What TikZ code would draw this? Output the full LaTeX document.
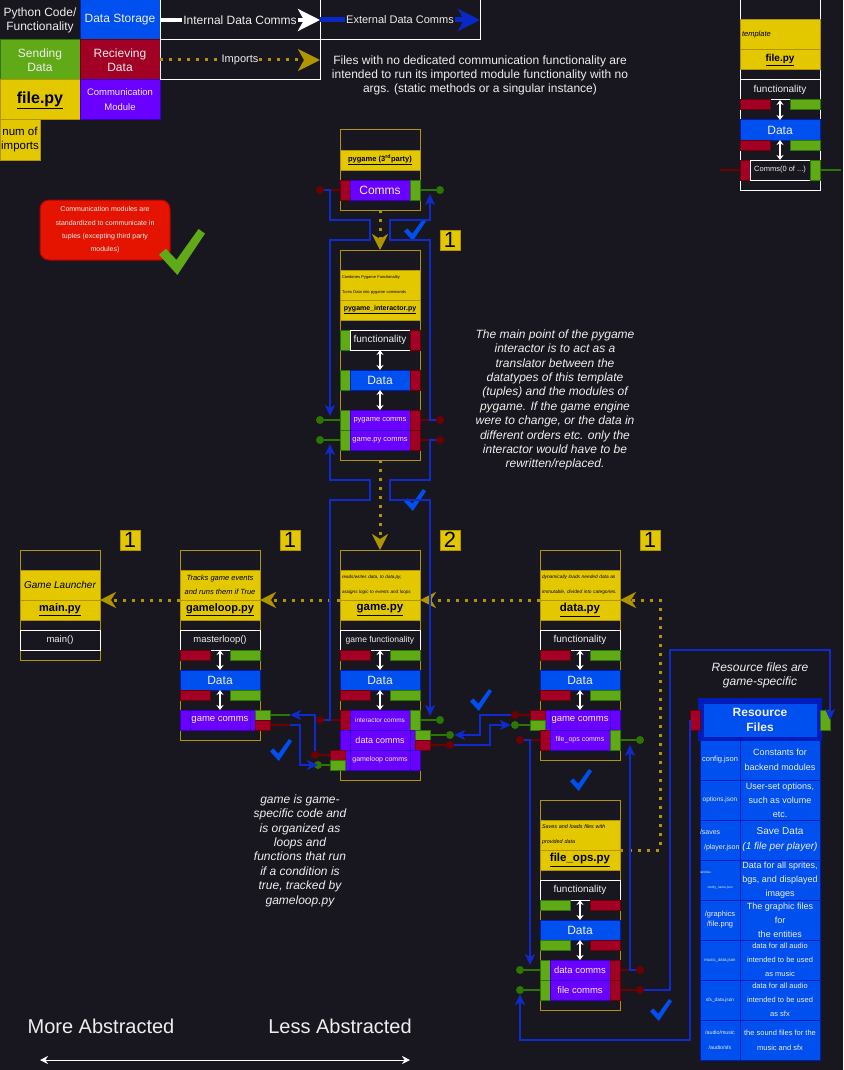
\documentclass[tikz,border=0pt]{standalone}
\usepackage{fontspec}
\setmainfont{Liberation Sans}
\usetikzlibrary{arrows.meta,calc}

\definecolor{bg}{RGB}{24,23,31}
\definecolor{txt}{RGB}{238,238,238}
\definecolor{yel}{HTML}{E3C800}
\definecolor{yelB}{HTML}{B09500}
\definecolor{dblue}{HTML}{0050EF}
\definecolor{dblueB}{HTML}{001DBC}
\definecolor{grn}{HTML}{60A917}
\definecolor{grnB}{HTML}{2D7600}
\definecolor{rd}{HTML}{A20025}
\definecolor{rdB}{HTML}{6F0000}
\definecolor{purp}{HTML}{6A00FF}
\definecolor{purpB}{HTML}{3700CC}
\definecolor{cblue}{RGB}{16,42,204}
\definecolor{xblue}{RGB}{10,40,200}
\definecolor{alarm}{HTML}{E51400}
\definecolor{alarmB}{HTML}{B20000}
\definecolor{chkblue}{RGB}{0,80,239}
\definecolor{chkgreen}{RGB}{96,169,23}

\newcommand\fsz[2]{\fontsize{#1}{#2}\selectfont}
% box from (x1,y1) to (x2,y2), y measured downwards
\newcommand\bx[7]{\node[inner sep=0pt,outer sep=0pt,align=center,anchor=north west,
  minimum width={#4-#2},minimum height={#5-#3},#6] (#1) at (#2,#3) {#7};}

\tikzset{
  ycell/.style={fill=yel,draw=yelB,line width=1pt,text=black},
  modbox/.style={draw=yelB,line width=1pt},
  fnbox/.style={fill=bg,draw=white,line width=1pt,text=txt},
  datab/.style={fill=dblue,draw=dblueB,line width=1pt,text=txt},
  commb/.style={fill=purp,draw=purpB,line width=1pt,text=txt},
  rstub/.style={fill=rd,draw=rdB,line width=1pt},
  gstub/.style={fill=grn,draw=grnB,line width=1pt},
  rline/.style={draw=rdB,line width=2.5pt},
  gline/.style={draw=grnB,line width=2.5pt},
  rdot/.style={circle,fill=rdB,inner sep=0pt,minimum size=8pt},
  gdot/.style={circle,fill=grnB,inner sep=0pt,minimum size=8pt},
  conn/.style={draw=cblue,line width=2pt,-{Stealth[length=11pt,width=10pt,inset=3pt]}},
  imp/.style={draw=yelB,line width=3pt,dash pattern=on 3pt off 6pt,
    -{Stealth[length=16pt,width=16pt,inset=5pt]}},
  dbl/.style={draw=white,line width=1.2pt,
    {Stealth[length=5pt,width=7pt]}-{Stealth[length=5pt,width=7pt]}},
  badge/.style={fill=yel,draw=yelB,line width=1pt,minimum size=20pt,inner sep=0pt,
    text=black,font=\fsz{22}{22}},
  desc/.style={ycell,align=left,text width=76pt,font=\itshape},
  note/.style={text=txt,align=center,font=\fsz{12}{14.4}\itshape},
  chk/.pic={\fill (0,0.56) -- (0.15,0.43) -- (0.38,0.67) -- (0.86,0) -- (1,0.1) -- (0.4,1) -- cycle;}
}

\begin{document}
\begin{tikzpicture}[x=1pt,y=-1pt]
\fill[bg] (0,0) rectangle (843,1070);
\useasboundingbox (0,0) rectangle (843,1070);

% ---------- legend ----------
\bx{lgPy}{0}{0}{80}{40}{fill=bg,text=txt,font=\fsz{12}{14}}{Python Code/\\Functionality}
\bx{lgDs}{80}{0}{160}{40}{datab,font=\fsz{12}{14}}{Data Storage}
\bx{lgSd}{0}{40}{80}{80}{gstub,text=txt,font=\fsz{12}{14}}{Sending\\Data}
\bx{lgRv}{80}{40}{160}{80}{rstub,text=txt,font=\fsz{12}{14}}{Recieving\\Data}
\bx{lgFp}{0}{80}{80}{120}{ycell,font=\fsz{16}{18}\bfseries}{\underline{file.py}}
\bx{lgCm}{80}{80}{160}{120}{commb,font=\fsz{9.5}{15}}{Communication\\Module}
\bx{lgNi}{0}{120}{40}{160}{ycell,font=\fsz{11.5}{14}}{num of\\imports}

\bx{lgIb}{160}{0}{320}{40}{draw=white,line width=1pt}{}
\bx{lgEb}{320}{0}{480}{40}{draw=white,line width=1pt}{}
\bx{lgMb}{160}{40}{320}{80}{draw=white,line width=1pt}{}
\draw[white,line width=4pt,-{Stealth[length=22pt,width=22pt,inset=6pt]}] (lgIb.west) -- (lgIb.east);
\node[fill=bg,text=txt,inner sep=1pt,font=\fsz{12}{14}] (lgIt) at (lgIb.center) {Internal Data Comms};
\draw[xblue,line width=5pt,-{Stealth[length=22pt,width=22pt,inset=6pt]}] (lgEb.west) -- (lgEb.east);
\node[fill=bg,text=txt,inner sep=1pt,font=\fsz{11}{13}] (lgEt) at (lgEb.center) {External Data Comms};
\draw[imp,-{Stealth[length=22pt,width=22pt,inset=6pt]}] (lgMb.west) -- (lgMb.east);
\node[fill=bg,text=txt,inner sep=1pt,font=\fsz{11}{13}] (lgMt) at (lgMb.center) {Imports};

\node[text=txt,align=center,font=\fsz{12}{14}] (lgNote) at (480,75)
  {Files with no dedicated communication functionality are\\intended to run its imported module functionality with no\\args. (static methods or a singular instance)};

% ---------- template ----------
\bx{tpOut}{740}{0}{820}{190}{draw=white,line width=1pt}{}
\bx{tpDesc}{740}{20}{820}{50}{desc,font=\fsz{7.5}{9}\itshape}{template}
\bx{tpName}{740}{50}{820}{70}{ycell,font=\fsz{10}{12}\bfseries}{\underline{file.py}}
\bx{tpFn}{740}{80}{820}{100}{fnbox,font=\fsz{10}{12}}{functionality}
\bx{tpR1}{740}{100}{770}{110}{rstub}{}
\bx{tpG1}{790}{100}{820}{110}{gstub}{}
\bx{tpData}{740}{120}{820}{140}{datab,font=\fsz{12}{14}}{Data}
\bx{tpR2}{740}{140}{770}{150}{rstub}{}
\bx{tpG2}{790}{140}{820}{150}{gstub}{}
\bx{tpCR}{740}{160}{750}{180}{rstub}{}
\bx{tpCm}{750}{160}{810}{180}{fnbox,font=\fsz{7.5}{9}}{Comms(0 of ...)}
\bx{tpCG}{810}{160}{820}{180}{gstub}{}
\coordinate (tpRe) at (720,170);
\coordinate (tpGe) at (841,170);
\draw[rline] (tpCR.west) -- (tpRe);
\draw[gline] (tpCG.east) -- (tpGe);
\draw[dbl] (tpFn.south) -- (tpData.north);
\draw[dbl] (tpData.south) -- (tpCm.north);

% ---------- pygame ----------
\bx{pgOut}{340}{130}{420}{210}{modbox}{}
\bx{pgName}{340}{150}{420}{170}{ycell,font=\fsz{7.5}{9}\bfseries}{\underline{pygame (3\textsuperscript{rd}party)}}
\bx{pgR}{340}{180}{350}{200}{rstub}{}
\bx{pgC}{350}{180}{410}{200}{commb,font=\fsz{12}{14}}{Comms}
\bx{pgG}{410}{180}{420}{200}{gstub}{}
\node[rdot] (pgRd) at (320,190) {};
\node[gdot] (pgGd) at (440,190) {};
\draw[rline] (pgR.west) -- (pgRd);
\draw[gline] (pgG.east) -- (pgGd);

% ---------- pygame_interactor ----------
\bx{piOut}{340}{250}{420}{460}{modbox}{}
\bx{piDesc}{340}{270}{420}{300}{desc,font=\fsz{4}{15}}{Combines Pygame Functionality\\Turns Data into pygame commands}
\bx{piName}{340}{300}{420}{320}{ycell,font=\fsz{7}{9}\bfseries}{\underline{pygame\_interactor.py}}
\bx{piFnG}{340}{330}{350}{350}{gstub}{}
\bx{piFn}{350}{330}{410}{350}{fnbox,font=\fsz{10}{12}}{functionality}
\bx{piFnR}{410}{330}{420}{350}{rstub}{}
\bx{piDaG}{340}{370}{350}{390}{gstub}{}
\bx{piData}{350}{370}{410}{390}{datab,font=\fsz{12}{14}}{Data}
\bx{piDaR}{410}{370}{420}{390}{rstub}{}
\bx{piC1G}{340}{410}{350}{430}{gstub}{}
\bx{piC1}{350}{410}{410}{430}{commb,font=\fsz{7.5}{9}}{pygame comms}
\bx{piC1R}{410}{410}{420}{430}{rstub}{}
\bx{piC2G}{340}{430}{350}{450}{gstub}{}
\bx{piC2}{350}{430}{410}{450}{commb,font=\fsz{7.5}{9}}{game.py comms}
\bx{piC2R}{410}{430}{420}{450}{rstub}{}
\node[gdot] (piGd1) at (320,420) {};
\node[gdot] (piGd2) at (320,440) {};
\node[rdot] (piRd1) at (440,420) {};
\node[rdot] (piRd2) at (440,440) {};
\draw[gline] (piC1G.west) -- (piGd1);
\draw[gline] (piC2G.west) -- (piGd2);
\draw[rline] (piC1R.east) -- (piRd1);
\draw[rline] (piC2R.east) -- (piRd2);
\draw[dbl] (piFn.south) -- (piData.north);
\draw[dbl] (piData.south) -- (piC1.north);

% ---------- main.py ----------
\bx{mnOut}{20}{550}{100}{660}{modbox}{}
\bx{mnDesc}{20}{570}{100}{600}{ycell,font=\fsz{10}{12}\itshape}{Game Launcher}
\bx{mnName}{20}{600}{100}{620}{ycell,font=\fsz{11}{13}\bfseries}{\underline{main.py}}
\bx{mnFn}{20}{630}{100}{650}{fnbox,font=\fsz{9.5}{11}}{main()}

% ---------- gameloop.py ----------
\bx{glOut}{180}{550}{260}{740}{modbox}{}
\bx{glDesc}{180}{570}{260}{600}{ycell,font=\fsz{7.5}{14.5}\itshape}{Tracks game events\\and runs them if True}
\bx{glName}{180}{600}{260}{620}{ycell,font=\fsz{11}{13}\bfseries}{\underline{gameloop.py}}
\bx{glFn}{180}{630}{260}{650}{fnbox,font=\fsz{9.5}{11}}{masterloop()}
\bx{glR1}{180}{650}{210}{660}{rstub}{}
\bx{glG1}{230}{650}{260}{660}{gstub}{}
\bx{glData}{180}{670}{260}{690}{datab,font=\fsz{12}{14}}{Data}
\bx{glR2}{180}{690}{210}{700}{rstub}{}
\bx{glG2}{230}{690}{260}{700}{gstub}{}
\bx{glCo}{180}{710}{255}{730}{commb}{}
\bx{glC}{190}{710}{250}{730}{commb,font=\fsz{9.5}{11}}{game comms}
\bx{glG}{255}{710}{270}{720}{gstub}{}
\bx{glR}{255}{720}{270}{730}{rstub}{}
\coordinate (glGe) at (290,715);
\coordinate (glRe) at (290,725);
\draw[gline] (glG.east) -- (glGe);
\draw[rline] (glR.east) -- (glRe);
\draw[dbl] (glFn.south) -- (glData.north);
\draw[dbl] (glData.south) -- (glC.north);

% ---------- game.py ----------
\bx{gmOut}{340}{550}{420}{780}{modbox}{}
\bx{gmDesc}{340}{570}{420}{600}{desc,font=\fsz{4.6}{15}\itshape}{reads/writes data, to data.py,\\assigns logic to events and loops}
\bx{gmName}{340}{600}{420}{620}{ycell,font=\fsz{11.5}{13}\bfseries}{\underline{game.py}}
\bx{gmFn}{340}{630}{420}{650}{fnbox,font=\fsz{8.5}{10}}{game functionality}
\bx{gmR1}{340}{650}{370}{660}{rstub}{}
\bx{gmG1}{390}{650}{420}{660}{gstub}{}
\bx{gmData}{340}{670}{420}{690}{datab,font=\fsz{12}{14}}{Data}
\bx{gmR2}{340}{690}{370}{700}{rstub}{}
\bx{gmG2}{390}{690}{420}{700}{gstub}{}
\bx{gmIR}{340}{710}{350}{730}{rstub}{}
\bx{gmIC}{350}{710}{410}{730}{commb,font=\fsz{6.5}{8}}{interactor comms}
\bx{gmIG}{410}{710}{420}{730}{gstub}{}
\bx{gmDo}{340}{730}{420}{750}{commb}{}
\bx{gmDC}{350}{730}{410}{750}{commb,font=\fsz{9}{11}}{data comms}
\bx{gmDG}{415}{730}{430}{740}{gstub}{}
\bx{gmDR}{415}{740}{430}{750}{rstub}{}
\bx{gmLo}{345}{750}{420}{770}{commb}{}
\bx{gmLC}{350}{750}{410}{770}{commb,font=\fsz{7}{8}}{gameloop comms}
\bx{gmLR}{330}{750}{345}{760}{rstub}{}
\bx{gmLG}{330}{760}{345}{770}{gstub}{}
\node[rdot] (gmRdI) at (320,720) {};
\node[gdot] (gmGdI) at (440,720) {};
\node[gdot] (gmGdD) at (450,735) {};
\node[rdot] (gmRdD) at (450,745) {};
\node[rdot] (gmRdL) at (315,755) {};
\node[gdot] (gmGdL) at (318,765) {};
\draw[rline] (gmIR.west) -- (gmRdI);
\draw[gline] (gmIG.east) -- (gmGdI);
\draw[gline] (gmDG.east) -- (gmGdD);
\draw[rline] (gmDR.east) -- (gmRdD);
\draw[rline] (gmLR.west) -- (gmRdL);
\draw[gline] (gmLG.west) -- (gmGdL);
\draw[dbl] (gmFn.south) -- (gmData.north);
\draw[dbl] (gmData.south) -- (gmIC.north);

% ---------- data.py ----------
\bx{dtOut}{540}{550}{620}{760}{modbox}{}
\bx{dtDesc}{540}{570}{620}{600}{desc,font=\fsz{4.8}{15}\itshape}{dynamically loads needed data as\\immutable, divided into categories.}
\bx{dtName}{540}{600}{620}{620}{ycell,font=\fsz{11.5}{13}\bfseries}{\underline{data.py}}
\bx{dtFn}{540}{630}{620}{650}{fnbox,font=\fsz{10}{12}}{functionality}
\bx{dtR1}{540}{650}{570}{660}{rstub}{}
\bx{dtG1}{590}{650}{620}{660}{gstub}{}
\bx{dtData}{540}{670}{620}{690}{datab,font=\fsz{12}{14}}{Data}
\bx{dtR2}{540}{690}{570}{700}{rstub}{}
\bx{dtG2}{590}{690}{620}{700}{gstub}{}
\bx{dtGo}{545}{710}{620}{730}{commb}{}
\bx{dtGC}{550}{710}{610}{730}{commb,font=\fsz{9.5}{11}}{game comms}
\bx{dtGR}{530}{710}{545}{720}{rstub}{}
\bx{dtGG}{530}{720}{545}{730}{gstub}{}
\bx{dtFR}{540}{730}{550}{750}{rstub}{}
\bx{dtFC}{550}{730}{610}{750}{commb,font=\fsz{7}{8}}{file\_ops comms}
\bx{dtFG}{610}{730}{620}{750}{gstub}{}
\node[rdot] (dtRd1) at (515,715) {};
\node[gdot] (dtGd1) at (515,725) {};
\node[rdot] (dtRd2) at (520,740) {};
\node[gdot] (dtGd2) at (640,740) {};
\draw[rline] (dtGR.west) -- (dtRd1);
\draw[gline] (dtGG.west) -- (dtGd1);
\draw[rline] (dtFR.west) -- (dtRd2);
\draw[gline] (dtFG.east) -- (dtGd2);
\draw[dbl] (dtFn.south) -- (dtData.north);
\draw[dbl] (dtData.south) -- (dtGC.north);

% ---------- file_ops.py ----------
\bx{foOut}{540}{800}{620}{1010}{modbox}{}
\bx{foDesc}{540}{820}{620}{850}{desc,font=\fsz{5.4}{15}\itshape}{Saves and loads files with\\provided data}
\bx{foName}{540}{850}{620}{870}{ycell,font=\fsz{11.5}{13}\bfseries}{\underline{file\_ops.py}}
\bx{foFn}{540}{880}{620}{900}{fnbox,font=\fsz{10}{12}}{functionality}
\bx{foG1}{540}{900}{570}{910}{gstub}{}
\bx{foR1}{590}{900}{620}{910}{rstub}{}
\bx{foData}{540}{920}{620}{940}{datab,font=\fsz{12}{14}}{Data}
\bx{foG2}{540}{940}{570}{950}{gstub}{}
\bx{foR2}{590}{940}{620}{950}{rstub}{}
\bx{foC1G}{540}{960}{550}{980}{gstub}{}
\bx{foC1}{550}{960}{610}{980}{commb,font=\fsz{9.5}{11}}{data comms}
\bx{foC1R}{610}{960}{620}{980}{rstub}{}
\bx{foC2G}{540}{980}{550}{1000}{gstub}{}
\bx{foC2}{550}{980}{610}{1000}{commb,font=\fsz{9.5}{11}}{file comms}
\bx{foC2R}{610}{980}{620}{1000}{rstub}{}
\node[gdot] (foGd1) at (520,970) {};
\node[gdot] (foGd2) at (520,990) {};
\node[rdot] (foRd1) at (640,970) {};
\node[rdot] (foRd2) at (640,990) {};
\draw[gline] (foC1G.west) -- (foGd1);
\draw[gline] (foC2G.west) -- (foGd2);
\draw[rline] (foC1R.east) -- (foRd1);
\draw[rline] (foC2R.east) -- (foRd2);
\draw[dbl] (foFn.south) -- (foData.north);
\draw[dbl] (foData.south) -- (foC1.north);

% ---------- resource files ----------
\node[note] (rsNote) at (760,675.5) {Resource files are\\game-specific};
\bx{rsHead}{698}{698}{822}{741}{fill=dblueB}{}
\bx{rsTitle}{703}{703}{817}{737}{datab,font=\fsz{12}{15}\bfseries}{Resource\\Files}
\bx{rsR}{690}{710}{700}{730}{rstub}{}
\bx{rsG}{820}{710}{830}{730}{gstub}{}
\bx{rsK1}{700}{740}{740}{780}{datab,font=\fsz{7.5}{9}}{config.json}
\bx{rsV1}{740}{740}{820}{780}{datab,font=\fsz{9}{15}}{Constants for\\backend modules}
\bx{rsK2}{700}{780}{740}{820}{datab,font=\fsz{6.5}{9}}{options.json}
\bx{rsV2}{740}{780}{820}{820}{datab,font=\fsz{9}{14}}{User-set options,\\such as volume\\etc.}
\bx{rsK3}{700}{820}{740}{860}{datab,font=\fsz{7}{15}}{/saves\phantom{mmmm}\\/player.json}
\bx{rsV3}{740}{820}{820}{860}{datab,font=\fsz{10}{15}}{Save Data\\\textit{(1 file per player)}}
\bx{rsK4}{700}{860}{740}{900}{datab,font=\fsz{3.2}{15}}{/entities\phantom{mmmmmmmmmmm}\\/entity\_name.json}
\bx{rsV4}{740}{860}{820}{900}{datab,font=\fsz{9}{14}}{Data for all sprites,\\bgs, and displayed\\images}
\bx{rsK5}{700}{900}{740}{940}{datab,font=\fsz{7.5}{10}}{/graphics\\/file.png}
\bx{rsV5}{740}{900}{820}{940}{datab,font=\fsz{9}{14}}{The graphic files\\for\\the entities}
\bx{rsK6}{700}{940}{740}{980}{datab,font=\fsz{4.3}{9}}{music\_data.json}
\bx{rsV6}{740}{940}{820}{980}{datab,font=\fsz{7.5}{14}}{data for all audio\\intended to be used\\as music}
\bx{rsK7}{700}{980}{740}{1020}{datab,font=\fsz{4.8}{9}}{sfx\_data.json}
\bx{rsV7}{740}{980}{820}{1020}{datab,font=\fsz{7.5}{14}}{data for all audio\\intended to be used\\as sfx}
\bx{rsK8}{700}{1020}{740}{1060}{datab,font=\fsz{5.3}{15}}{/audio/music\\/audio/sfx}
\bx{rsV8}{740}{1020}{820}{1060}{datab,font=\fsz{7.5}{15}}{the sound files for the\\music and sfx}

% ---------- notes ----------
\node[rounded corners=9pt,fill=alarm,draw=alarmB,line width=1pt,minimum width=130pt,
  minimum height=60pt,text=txt,align=center,font=\fsz{7}{13.3}] (nComm) at (105,230)
  {Communication modules are\\standardized to communicate in\\tuples (excepting third party\\modules)};
\node[note] (nInter) at (555,400) {The main point of the pygame\\interactor is to act as a\\translator between the\\datatypes of this template\\(tuples) and the modules of\\pygame. If the game engine\\were to change, or the data in\\different orders etc. only the\\interactor would have to be\\rewritten/replaced.};
\node[note] (nGame) at (300,850.5) {game is game-\\specific code and\\is organized as\\loops and\\functions that run\\if a condition is\\true, tracked by\\gameloop.py};

% ---------- import counts ----------
\node[badge] (bMain) at (130,540) {1};
\node[badge] (bLoop) at (290,540) {1};
\node[badge] (bInter) at (450,240) {1};
\node[badge] (bGame) at (450,540) {2};
\node[badge] (bData) at (650,540) {1};

% ---------- checkmarks ----------
\pic[chkgreen,scale=46] at (159,229) {chk};
\pic[chkblue,scale=22] at (404,219) {chk};
\pic[chkblue,scale=22] at (404,489) {chk};
\pic[chkblue,scale=22] at (270,739) {chk};
\pic[chkblue,scale=22] at (470,689) {chk};
\pic[chkblue,scale=22] at (570,769) {chk};
\pic[chkblue,scale=22] at (650,999) {chk};

% ---------- imports ----------
\draw[imp] (pgOut.south) -- (piOut.north);
\draw[imp] (piOut.south) -- (gmOut.north);
\draw[imp] ($(gmOut.north west)+(0,50)$) -- ($(glOut.north east)+(0,50)$);
\draw[imp] ($(glOut.north west)+(0,50)$) -- ($(mnOut.north east)+(0,50)$);
\draw[imp] ($(dtOut.north west)+(0,50)$) -- ($(gmOut.north east)+(0,50)$);
\draw[imp] ($(foOut.north east)+(0,50)$) -| ($(dtOut.north east)+(40,50)$) -- ($(dtOut.north east)+(0,50)$);

% ---------- data comms ----------
\draw[conn] (pgRd.east) -| (330,220) -- (370,220) -- (370,240) -- (330,240) -- ($(piGd1)+(10,-4)$);
\draw[conn] (piRd1.west) -| (430,240) -- (390,240) -- (390,220) -- (430,220) -- ($(pgGd)+(-10,4)$);
\draw[conn] (gmRdI.east) -| (330,500) -- (370,500) -- (370,480) -- (330,480) -- ($(piGd2)+(10,4)$);
\draw[conn] (piRd2.west) -| (430,480) -- (390,480) -- (390,500) -- (430,500) -- ($(gmGdI)+(-10,-4)$);
\draw[conn] (dtRd1.west) -| (480,735) -- (gmGdD);
\draw[conn] (gmRdD.east) -| (490,725) -- (dtGd1);
\draw[conn] (gmRdL.north) |- (glGe);
\draw[conn] (glRe) -| (300,765) -- (gmGdL.center);
\draw[conn] (dtRd2.east) -| ($(foGd1)+(10,-5)$);
\draw[conn] (foRd1.west) -| ($(dtGd2)+(-10,5)$);
\draw[conn] (foRd2.east) -| (670,650) -| (rsG.east);
\draw[conn] (rsR.west) -- (690,1040) -| (foGd2.south);

% ---------- abstraction scale ----------
\node[text=txt,font=\fsz{20}{24}] (abMore) at (101,1026) {More Abstracted};
\node[text=txt,font=\fsz{20}{24}] (abLess) at (340,1026) {Less Abstracted};
\coordinate (abL) at (40,1060);
\coordinate (abR) at (410,1060);
\draw[white,line width=1pt,{Stealth[length=8pt,width=8pt]}-{Stealth[length=8pt,width=8pt]}] (abL) -- (abR);
\end{tikzpicture}
\end{document}
